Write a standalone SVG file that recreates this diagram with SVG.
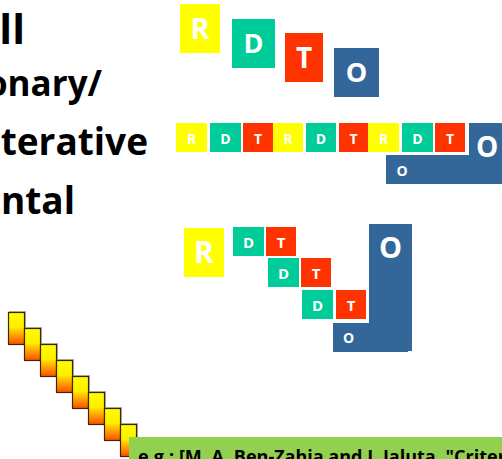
<svg xmlns="http://www.w3.org/2000/svg" width="502" height="459" viewBox="0 0 502 459">
<defs>
<linearGradient id="stair" x1="0" y1="0" x2="0" y2="1">
<stop offset="0" stop-color="#FFFF00"/>
<stop offset="0.45" stop-color="#FFEE00"/>
<stop offset="1" stop-color="#FF4A00"/>
</linearGradient>
</defs>
<style>
.t{font-family:"Open Sans","Liberation Sans",sans-serif;font-weight:bold;fill:#000}
.w{font-family:"Open Sans","Liberation Sans",sans-serif;font-weight:bold;fill:#fff;text-anchor:middle}
.R{fill:#FFFF00}.D{fill:#00CC99}.T{fill:#FF3300}.O{fill:#336699}
.s{font-size:14px}
.sh{fill:none;stroke:#b0b0b0;stroke-width:1}
.st{fill:url(#stair);stroke:#3a2a00;stroke-width:1.2}
</style>
<rect width="502" height="459" fill="#fff"/>
<g id="labels">
<text class="t" x="25" y="44" font-size="42" text-anchor="end">ll</text>
<text class="t" x="102" y="96" font-size="35" text-anchor="end">onary/</text>
<text class="t" x="148" y="155" font-size="37" text-anchor="end">terative</text>
<text class="t" x="75" y="214" font-size="37" text-anchor="end">ntal</text>
</g>
<g id="waterfall">
<rect class="R" x="180" y="4" width="40" height="49"/><text class="w" x="200" y="39" font-size="29">R</text>
<rect class="D" x="232" y="19" width="43" height="49"/><text class="w" x="253.5" y="53" font-size="27">D</text>
<rect class="T" x="285" y="33" width="38" height="49"/><text class="w" x="304" y="68" font-size="28">T</text>
<rect class="O" x="334" y="48" width="45" height="49"/><text class="w" x="356.5" y="82" font-size="27">O</text>
</g>
<g id="iterative">
<rect class="O" x="469" y="123" width="40" height="61"/>
<rect class="O" x="386" y="155" width="120" height="29"/>
<text class="w" x="402" y="176" font-size="14">O</text>
<text class="t" x="476" y="157" font-size="28" style="fill:#fff">O</text>
<rect class="R" x="176" y="123" width="31" height="29"/><text class="w s" x="191.5" y="144">R</text>
<rect class="D" x="210" y="123" width="31" height="29"/><text class="w s" x="225.5" y="144">D</text>
<rect class="T" x="243" y="123" width="30" height="29"/><text class="w s" x="258" y="144">T</text>
<rect class="R" x="273" y="123" width="30" height="29"/><text class="w s" x="288" y="144">R</text>
<rect class="D" x="306" y="123" width="30" height="29"/><text class="w s" x="321" y="144">D</text>
<rect class="T" x="339" y="123" width="29" height="29"/><text class="w s" x="353.5" y="144">T</text>
<rect class="R" x="368" y="123" width="31" height="29"/><text class="w s" x="383.5" y="144">R</text>
<rect class="D" x="402" y="123" width="31" height="29"/><text class="w s" x="417.5" y="144">D</text>
<rect class="T" x="435" y="123" width="30" height="29"/><text class="w s" x="450" y="144">T</text>
</g>
<g id="incremental">
<rect class="R" x="184" y="228" width="40" height="49"/><text class="w" x="204" y="263" font-size="30">R</text>
<rect class="D" x="233" y="227" width="31" height="29"/><text class="w" x="248.5" y="248" font-size="15">D</text>
<rect class="T" x="266" y="227" width="30" height="29"/><text class="w" x="281" y="248" font-size="15">T</text>
<rect class="D" x="268" y="258" width="31" height="29"/><text class="w" x="283.5" y="279" font-size="15">D</text>
<rect class="T" x="301" y="258" width="30" height="29"/><text class="w" x="316" y="279" font-size="15">T</text>
<rect class="D" x="302" y="290" width="31" height="29"/><text class="w" x="317.5" y="311" font-size="15">D</text>
<rect class="T" x="336" y="290" width="30" height="29"/><text class="w" x="351" y="311" font-size="15">T</text>
<rect class="O" x="369" y="224" width="43" height="127"/>
<rect class="O" x="333" y="323" width="75" height="29"/>
<text class="w" x="390.5" y="258" font-size="29">O</text>
<text class="w" x="348.5" y="343" font-size="14">O</text>
</g>
<g id="staircase">
<rect class="sh" x="9.5" y="311.5" width="16" height="32"/>
<rect class="st" x="8.5" y="312.5" width="16" height="32"/>
<rect class="sh" x="25.5" y="327.5" width="16" height="32"/>
<rect class="st" x="24.5" y="328.5" width="16" height="32"/>
<rect class="sh" x="41.5" y="343.5" width="16" height="32"/>
<rect class="st" x="40.5" y="344.5" width="16" height="32"/>
<rect class="sh" x="57.5" y="359.5" width="16" height="32"/>
<rect class="st" x="56.5" y="360.5" width="16" height="32"/>
<rect class="sh" x="73.5" y="375.5" width="16" height="32"/>
<rect class="st" x="72.5" y="376.5" width="16" height="32"/>
<rect class="sh" x="89.5" y="391.5" width="16" height="32"/>
<rect class="st" x="88.5" y="392.5" width="16" height="32"/>
<rect class="sh" x="105.5" y="407.5" width="16" height="32"/>
<rect class="st" x="104.5" y="408.5" width="16" height="32"/>
<rect class="sh" x="121.5" y="423.5" width="16" height="32"/>
<rect class="st" x="120.5" y="424.5" width="16" height="32"/>
</g>
<g id="reference">
<rect x="129" y="437" width="380" height="30" fill="#92D050"/>
<text class="t" x="138" y="463" font-size="18">e.g.: [M. A. Ben-Zahia and I. Jaluta, "Criter</text>
</g>
</svg>
